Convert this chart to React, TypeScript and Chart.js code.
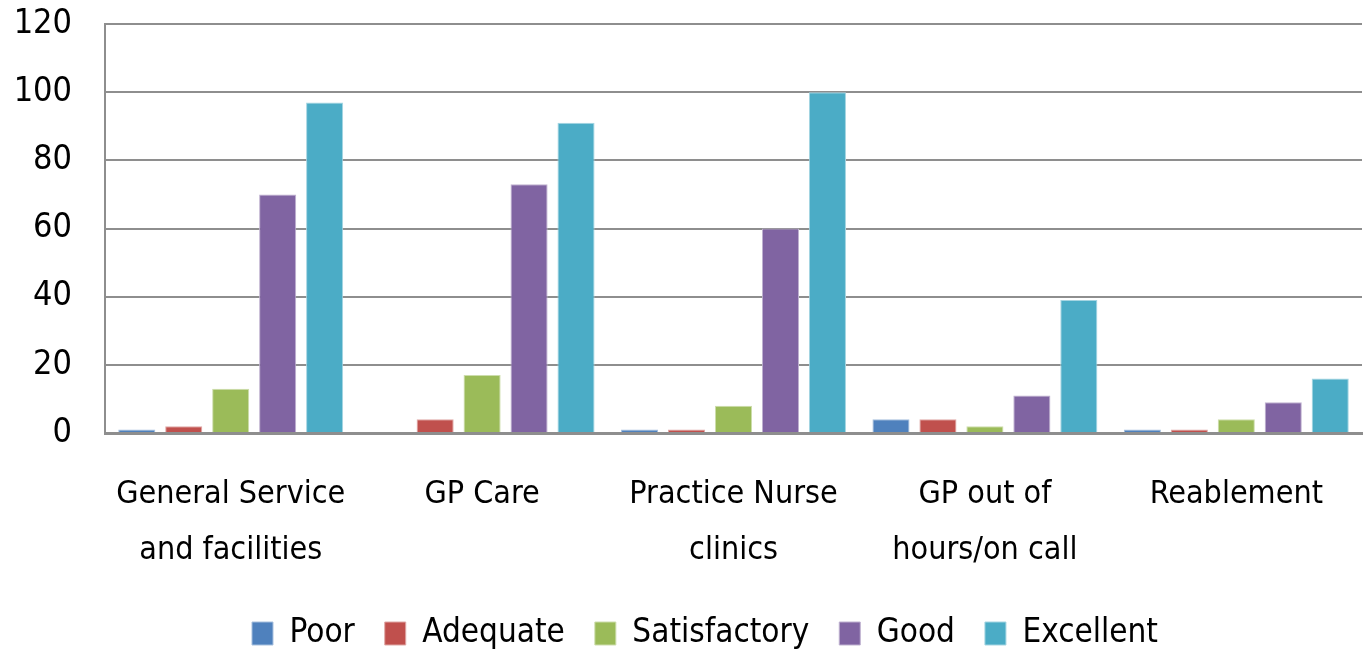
import React, { useEffect, useRef } from "react";
import { Chart, registerables } from "chart.js";

Chart.register(...registerables);

const categories: (string | string[])[] = [
  ["General Service", "and facilities"],
  "GP Care",
  ["Practice Nurse", "clinics"],
  ["GP out of", "hours/on call"],
  "Reablement",
];

const poor = [1, 0, 1, 4, 1];
const adequate = [2, 4, 1, 4, 1];
const satisfactory = [13, 17, 8, 2, 4];
const good = [70, 73, 60, 11, 9];
const excellent = [97, 91, 100, 39, 16];

const yTicks = [0, 20, 40, 60, 80, 100, 120];

const FONT = "'DejaVu Sans Condensed', 'Liberation Sans Narrow', sans-serif";

const shiftLegend = {
  id: "shiftLegend",
  afterLayout(chart: any) {
    const lg = chart.legend;
    if (lg) {
      lg.left += 24;
      lg.right += 24;
    }
  },
};

export default function App() {
  const ref = useRef<HTMLCanvasElement | null>(null);

  useEffect(() => {
    document.body.style.margin = "0";
    if (!ref.current) return;
    const mk = (label: string, data: number[], color: string, border: string) => ({
      label,
      data,
      backgroundColor: color,
      borderColor: border,
      borderWidth: 1,
      categoryPercentage: 0.934,
      barPercentage: 0.79,
    });
    const chart = new Chart(ref.current, {
      type: "bar",
      data: {
        labels: categories,
        datasets: [
          mk("Poor", poor, "#4F81BD", "#A7C0DE"),
          mk("Adequate", adequate, "#C0504D", "#DFA8A6"),
          mk("Satisfactory", satisfactory, "#9BBB59", "#CDDDAC"),
          mk("Good", good, "#8064A2", "#BFB1D0"),
          mk("Excellent", excellent, "#4BACC6", "#A5D5E2"),
        ],
      },
      plugins: [shiftLegend],
      options: {
        responsive: false,
        animation: false,
        layout: { padding: { left: 0, right: 1, top: 24, bottom: -6 } },
        plugins: {
          tooltip: { enabled: false },
          legend: {
            position: "bottom",
            labels: {
              color: "#000",
              font: { family: FONT, size: 33 },
              boxWidth: 21,
              boxHeight: 23,
              padding: 30,
            },
          },
        },
        scales: {
          x: {
            grid: { display: false, drawTicks: false },
            border: { display: true, color: "#8e8e8e", width: 3 },
            afterFit: (s: any) => {
              s.height = 154;
              s.paddingLeft = 0;
              s.paddingRight = 0;
            },
            ticks: {
              color: "#000",
              font: { family: FONT, size: 32, lineHeight: 1.75 },
              padding: 34,
              maxRotation: 0,
              autoSkip: false,
            },
          },
          y: {
            min: 0,
            max: 120,
            afterBuildTicks: (s: any) => {
              s.ticks = yTicks.map((v) => ({ value: v }));
            },
            afterFit: (s: any) => {
              s.width = 105;
              s.paddingTop = 0;
              s.paddingBottom = 0;
            },
            grid: { color: "#8e8e8e", lineWidth: 2, drawTicks: false },
            border: { display: true, color: "#8e8e8e", width: 2 },
            ticks: {
              color: "#000",
              font: { family: FONT, size: 34 },
              padding: 33,
            },
          },
        },
      },
    });
    return () => chart.destroy();
  }, []);

  return (
    <div style={{ width: 1363, height: 654 }}>
      <canvas ref={ref} width={1363} height={654} />
    </div>
  );
}
